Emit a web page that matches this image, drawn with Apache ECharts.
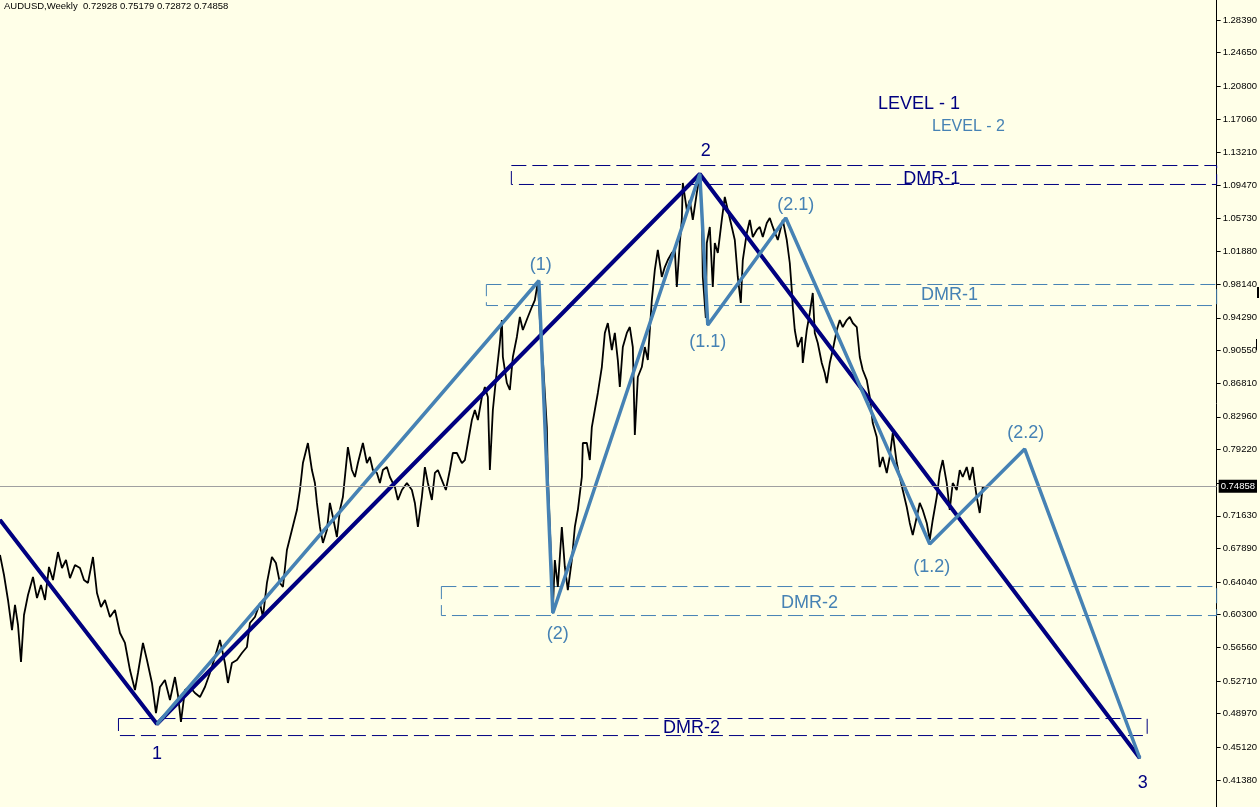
<!DOCTYPE html>
<html><head><meta charset="utf-8">
<script src="https://cdn.jsdelivr.net/npm/echarts@6/dist/echarts.min.js"></script>
<style>html,body{margin:0;padding:0;background:#FFFFE8;}#c{width:1260px;height:807px;}</style>
</head><body><div id="c"></div>
<script>
// ---------- data ----------
const symbolTitle = 'AUDUSD,Weekly  0.72928 0.75179 0.72872 0.74858';
const priceTicks = [1.28390,1.24650,1.20800,1.17060,1.13210,1.09470,1.05730,1.01880,0.98140,0.94290,0.90550,0.86810,0.82960,0.79220,0.75370,0.71630,0.67890,0.64040,0.60300,0.56560,0.52710,0.48970,0.45120,0.41380];
const lastClose = 0.74858;
// [week index, price]
const audusdWeekly = [
[0,0.6714],[4,0.6485],[8,0.6199],[12,0.5855],[15,0.6142],[18,0.5913],[21,0.5489],[24,0.6027],[28,0.6256],[33,0.6462],[37,0.6221],[41,0.6371],[45,0.6199],[49,0.6577],[53,0.6428],[58,0.6748],[62,0.6565],[66,0.6657],[70,0.6450],[75,0.6600],[80,0.6565],[84,0.6428],[88,0.6394],[93,0.6691],[97,0.6279],[101,0.6119],[105,0.6199],[110,0.6004],[115,0.6084],[120,0.5821],[125,0.5707],[130,0.5397],[135,0.5168],[138,0.5363],[143,0.5707],[147,0.5512],[152,0.5249],[156,0.4905],[160,0.5203],[165,0.5283],[170,0.5054],[175,0.5317],[178,0.5111],[181,0.4802],[185,0.5168],[190,0.5203],[195,0.5134],[200,0.5088],[205,0.5203],[210,0.5363],[215,0.5546],[220,0.5741],[225,0.5478],[228,0.5249],[232,0.5478],[237,0.5512],[242,0.5592],[247,0.5661],[250,0.5936],[255,0.6004],[260,0.6165],[263,0.6004],[267,0.6394],[272,0.6691],[276,0.6623],[280,0.6394],[283,0.6348],[287,0.6771],[292,0.7000],[297,0.7229],[300,0.7458],
[303,0.7767],[308,0.7996],[312,0.7687],[315,0.7538],[317,0.7310],[320,0.7035],[323,0.6852],[327,0.7000],[330,0.7310],[333,0.7149],[337,0.6920],[340,0.7229],[343,0.7378],[348,0.7950],[352,0.7687],[355,0.7607],[358,0.7767],[363,0.7996],[367,0.7767],[370,0.7836],[373,0.7687],[377,0.7653],[380,0.7538],[383,0.7687],[387,0.7721],[390,0.7607],[395,0.7492],[398,0.7344],[402,0.7458],[407,0.7538],[412,0.7458],[415,0.7310],[418,0.7035],[422,0.7378],[425,0.7721],[428,0.7538],[432,0.7344],[435,0.7653],[438,0.7687],[442,0.7572],[446,0.7458],[450,0.7687],[453,0.7882],[457,0.7882],[462,0.7767],[465,0.7801],[468,0.7996],[472,0.8259],[475,0.8374],[478,0.8259],[482,0.8523],[485,0.8637],[488,0.8523],[490,0.7687],[493,0.8374],[497,0.8832],[500,0.9141],[502,0.9404],[503,0.8981],[507,0.8683],[510,0.8603],[513,0.8981],[517,0.9210],[520,0.9439],[523,0.9290],[528,0.9439],[532,0.9553],[535,0.9633],[538,0.9839],
[540,0.9404],[543,0.8946],[545,0.8569],[547,0.8179],[548,0.7607],[550,0.7035],[552,0.6462],[553,0.6084],[555,0.6657],[558,0.6348],[562,0.7035],[565,0.6577],[568,0.6313],[572,0.6657],[575,0.7035],[578,0.7229],[582,0.7607],[583,0.7996],[587,0.7996],[590,0.7801],[592,0.8179],[595,0.8374],[598,0.8569],[602,0.8866],[605,0.9256],[608,0.9370],[612,0.9061],[615,0.9256],[618,0.8946],[620,0.8637],[623,0.9095],[627,0.9256],[630,0.9324],[633,0.9095],[635,0.8088],[638,0.8752],[642,0.8866],[645,0.9095],[648,0.8946],[652,0.9633],[655,0.9977],[658,1.0206],[662,0.9897],[665,1.0011],[668,1.0091],[672,1.0172],[675,1.0206],[677,0.9782],[680,1.0286],[682,1.0550],[683,1.0973],[687,1.0664],[690,1.0778],[693,1.0550],[697,1.0859],[700,1.1065],[702,1.0664],[703,0.9897],[706,0.9427],[707,1.0286],[710,1.0470],[713,0.9782],[715,1.0286],[718,1.0172],[722,1.0550],[725,1.0813],[728,1.0664],[732,1.0470],[735,1.0320],[738,0.9897],[741,0.9599],[743,1.0091],[747,1.0401],[750,1.0550],[753,1.0355],[757,1.0435],[760,1.0470],[763,1.0355],[767,1.0516],[770,1.0572],[773,1.0470],
[778,1.0320],[783,1.0550],[787,1.0320],[790,1.0057],[792,0.9748],[793,0.9553],[795,0.9290],[798,0.9095],[802,0.9210],[803,0.8912],[807,0.9290],[810,0.9485],[813,0.9714],[815,0.9256],[818,0.9141],[822,0.8912],[825,0.8798],[827,0.8683],[830,0.8912],[833,0.9061],[837,0.9290],[840,0.9404],[843,0.9324],[847,0.9404],[850,0.9439],[853,0.9370],[857,0.9324],[860,0.8981],[863,0.8832],[867,0.8717],[870,0.8523],[873,0.8225],[877,0.8065],[880,0.7721],[883,0.7836],[887,0.7653],[890,0.7836],[893,0.8111],[897,0.7767],[900,0.7607],[903,0.7458],[907,0.7264],[910,0.7081],[913,0.6943],[917,0.7149],[920,0.7310],[923,0.7229],[927,0.7081],[930,0.6886],[933,0.7115],[937,0.7378],[940,0.7653],[943,0.7801],[947,0.7538],[950,0.7229],[953,0.7538],[957,0.7458],[960,0.7687],[963,0.7607],[967,0.7721],[970,0.7572],[973,0.7721],[975,0.7538],[977,0.7378],[980,0.7195],[983,0.7492],[985,0.7486]
];
const level1Weeks  = [0, 157, 700, 1140];
const level1Prices = [0.7115, 0.4779, 1.1076, 0.4390];
const level1Labels = ['', '1', '2', '3'];
const level2Weeks  = [157, 539, 553, 700, 708, 786, 930, 1025, 1140];
const level2Prices = [0.4779, 0.9854, 0.6050, 1.1076, 0.9347, 1.0572, 0.6840, 0.7927, 0.4390];
const level2Labels = ['', '(1)', '(2)', '', '(1.1)', '(2.1)', '(1.2)', '(2.2)', ''];
const dmrNames  = ['DMR-1', 'DMR-2', 'DMR-1', 'DMR-2'];
const dmrLevels = [1, 1, 2, 2];
const dmrFrom   = [511.5, 118.5, 486.5, 441.5];
const dmrTo     = [1217, 1147.5, 1217, 1217];
const dmrHigh   = [1.1173, 0.4842, 0.9811, 0.6353];
const dmrLow    = [1.0956, 0.4647, 0.9570, 0.6021];
const legendTexts = ['LEVEL - 1', 'LEVEL - 2'];

// ---------- styles ----------
const NAVY = '#000080', STEEL = '#4682B4', FONT = '"Liberation Sans", Arial, sans-serif';
const lvl1LabelStyle = {
  '1': {position: 'bottom', distance: 20, offset: [0, 0]},
  '2': {position: 'top', distance: 13, offset: [6, 0]},
  '3': {position: 'bottom', distance: 15, offset: [3, 0]}
};
const lvl2LabelStyle = {
  '(1)': {position: 'top', distance: 6, offset: [2, 0]},
  '(2)': {position: 'bottom', distance: 11, offset: [5, 0]},
  '(1.1)': {position: 'bottom', distance: 7, offset: [0, 0]},
  '(2.1)': {position: 'top', distance: 3, offset: [10, 0]},
  '(1.2)': {position: 'bottom', distance: 13, offset: [2, 0]},
  '(2.2)': {position: 'top', distance: 6, offset: [1, 0]}
};
const dmrLabelPos = [['59.6%', '68%'], ['55.7%', '58%'], ['63.4%', '52%'], ['47.5%', '55%']];

function wavePoints(weeks, prices, labels, styles, color) {
  return weeks.map((w, i) => {
    const lab = labels[i];
    const st = styles[lab];
    return {
      value: [w, prices[i]],
      label: lab ? Object.assign({show: true, formatter: lab, color: color, fontSize: 18, fontFamily: FONT}, st) : {show: false}
    };
  });
}
function dmrArea(level) {
  const color = level === 1 ? NAVY : STEEL;
  const out = [];
  dmrNames.forEach((n, i) => {
    if (dmrLevels[i] !== level) return;
    out.push([
      {coord: [dmrFrom[i], dmrHigh[i]], name: n,
       itemStyle: {color: 'rgba(0,0,0,0)', borderColor: color, borderWidth: 1, borderType: [15, 6]},
       label: {show: true, formatter: n, position: dmrLabelPos[i], align: 'center', verticalAlign: 'middle', color: color, fontSize: 18, fontFamily: FONT}},
      {coord: [dmrTo[i], dmrLow[i]]}
    ]);
  });
  return out;
}

const chart = echarts.init(document.getElementById('c'), null, {renderer: 'canvas'});
chart.setOption({
  animation: false,
  backgroundColor: '#FFFFE8',
  title: {text: symbolTitle, left: 4, top: 1, padding: 0,
    textStyle: {fontSize: 9.5, fontWeight: 'normal', color: '#000', fontFamily: FONT}},
  grid: {left: 0, right: 43, top: 0, bottom: 0},
  xAxis: {type: 'value', min: 0, max: 1217, show: false},
  yAxis: {type: 'value', position: 'right', min: 0.3829, max: 1.3068, scale: true,
    axisLine: {show: true, onZero: false, lineStyle: {color: '#000', width: 1}},
    axisTick: {show: true, length: 4, lineStyle: {color: '#000'}, customValues: priceTicks},
    axisLabel: {show: true, margin: 6, color: '#000', fontSize: 9.5, fontFamily: FONT,
      customValues: priceTicks, formatter: v => v.toFixed(5)},
    splitLine: {show: false}
  },
  graphic: [
    {type: 'text', left: 878, top: 95, style: {text: legendTexts[0], font: '18px ' + FONT, fill: NAVY}},
    {type: 'text', left: 932, top: 119, style: {text: legendTexts[1], font: '16px ' + FONT, fill: STEEL}},
    {type: 'rect', left: 1257, top: 287, shape: {width: 2, height: 11}, style: {fill: '#000'}},
    {type: 'rect', left: 1256, top: 339, shape: {width: 1, height: 11}, style: {fill: '#000'}}
  ],
  series: [
    {
      name: 'AUDUSD', type: 'line', data: audusdWeekly, showSymbol: false, z: 2,
      lineStyle: {color: '#000', width: 1.8}, silent: true,
      markLine: {silent: true, symbol: ['none', 'none'],
        lineStyle: {color: '#A0A0A0', width: 1, type: 'solid'},
        label: {position: 'end', distance: 2, formatter: () => lastClose.toFixed(5),
          backgroundColor: '#000', color: '#fff', padding: [2, 2, 1, 2], fontSize: 9.5, fontFamily: FONT},
        data: [{yAxis: lastClose}]}
    },
    {
      name: 'Level 1', type: 'line', z: 3, silent: true,
      data: wavePoints(level1Weeks, level1Prices, level1Labels, lvl1LabelStyle, NAVY),
      symbol: 'circle', symbolSize: 2, showAllSymbol: true, itemStyle: {color: NAVY},
      lineStyle: {color: NAVY, width: 4},
      markArea: {silent: true, data: dmrArea(1)}
    },
    {
      name: 'Level 2', type: 'line', z: 4, silent: true,
      data: wavePoints(level2Weeks, level2Prices, level2Labels, lvl2LabelStyle, STEEL),
      symbol: 'circle', symbolSize: 2, showAllSymbol: true, itemStyle: {color: STEEL},
      lineStyle: {color: STEEL, width: 3.5},
      markArea: {silent: true, data: dmrArea(2)}
    }
  ]
});
</script></body></html>
